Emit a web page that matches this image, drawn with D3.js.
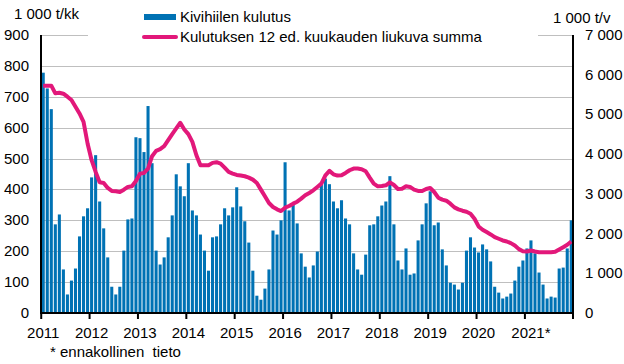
<!DOCTYPE html>
<html>
<head>
<meta charset="utf-8">
<script src="https://cdn.jsdelivr.net/npm/d3@7"></script>
<style>
body { margin: 0; background: #fff; }
text { font-family: "Liberation Sans", Arial, sans-serif; fill: #000; font-size: 15px; }
</style>
</head>
<body>
<svg width="624" height="364"></svg>
<script>
var years = ["2011", "2012", "2013", "2014", "2015", "2016", "2017", "2018", "2019", "2020", "2021"];
var yearLabels = ["2011", "2012", "2013", "2014", "2015", "2016", "2017", "2018", "2019", "2020", "2021*"];

// monthly consumption, 1 000 t
var monthly = {
	"2011": [778, 727, 660, 287, 319, 141, 60, 105, 144, 248, 313, 339],
	"2012": [439, 511, 361, 274, 180, 85, 60, 85, 202, 303, 306, 569],
	"2013": [566, 521, 670, 485, 202, 157, 180, 245, 316, 449, 410, 378],
	"2014": [485, 332, 316, 254, 202, 137, 245, 248, 287, 339, 316, 342],
	"2015": [407, 345, 297, 228, 137, 56, 43, 79, 141, 267, 254, 300],
	"2016": [488, 332, 355, 290, 193, 150, 115, 154, 199, 420, 435, 417],
	"2017": [361, 339, 365, 306, 287, 193, 141, 124, 189, 284, 287, 313],
	"2018": [348, 361, 443, 287, 170, 141, 209, 124, 128, 235, 287, 355],
	"2019": [394, 284, 293, 206, 154, 98, 92, 76, 98, 202, 245, 212],
	"2020": [196, 222, 206, 167, 85, 66, 47, 53, 63, 105, 150, 170],
	"2021": [209, 235, 193, 131, 92, 47, 53, 50, 144, 147, 209, 300]
};

// 12 month moving sum, 1 000 t/v
var rolling = {
	"2011": [5724, 5724, 5724, 5531, 5547, 5522, 5446, 5362, 5194, 5025, 4815, 4268],
	"2012": [3847, 3552, 3291, 3275, 3148, 3073, 3064, 3047, 3106, 3174, 3190, 3325],
	"2013": [3510, 3527, 3637, 3948, 4083, 4125, 4201, 4352, 4504, 4647, 4790, 4622],
	"2014": [4504, 4310, 3973, 3721, 3721, 3721, 3780, 3797, 3763, 3662, 3552, 3510],
	"2015": [3477, 3460, 3443, 3409, 3359, 3275, 3106, 2938, 2769, 2669, 2610, 2567],
	"2016": [2652, 2694, 2753, 2803, 2879, 2963, 3022, 3089, 3174, 3258, 3468, 3578],
	"2017": [3493, 3460, 3468, 3527, 3595, 3637, 3637, 3620, 3569, 3409, 3258, 3190],
	"2018": [3199, 3216, 3291, 3224, 3123, 3131, 3190, 3174, 3106, 3073, 3073, 3123],
	"2019": [3148, 3047, 2904, 2854, 2828, 2753, 2660, 2610, 2576, 2551, 2500, 2374],
	"2020": [2180, 2096, 2037, 1978, 1911, 1869, 1827, 1801, 1759, 1700, 1608, 1557],
	"2021": [1549, 1574, 1549, 1532, 1532, 1532, 1532, 1540, 1600, 1658, 1717, 1801]
};

var leftTicks = [0, 100, 200, 300, 400, 500, 600, 700, 800, 900];
var rightTicks = [0, 1000, 2000, 3000, 4000, 5000, 6000, 7000];

var data = [];
years.forEach(function(y) {
	monthly[y].forEach(function(v, i) {
		data.push({key: y + "-" + i, year: y, month: i, value: v, sum: rolling[y][i]});
	});
});

var plotLeft = 41, plotRight = 573, plotTop = 35, plotBottom = 313;
var svg = d3.select("svg");

var x = d3.scaleBand()
	.domain(data.map(function(d) { return d.key; }))
	.range([plotLeft + 0.5, plotRight])
	.paddingInner(0.24)
	.paddingOuter(0.05);

var yL = d3.scaleLinear().domain([0, 900]).range([plotBottom, plotTop]);
var yR = d3.scaleLinear().domain([0, 7000]).range([plotBottom, plotTop]);

var fmt = d3.formatLocale({decimal: ",", thousands: " ", grouping: [3], currency: ["", ""]}).format(",");

// gridlines
svg.append("g").selectAll("line")
	.data(leftTicks.slice(1))
	.enter().append("line")
	.attr("x1", plotLeft).attr("x2", plotRight)
	.attr("y1", function(d) { return Math.round(yL(d)) + 0.5; })
	.attr("y2", function(d) { return Math.round(yL(d)) + 0.5; })
	.attr("stroke", "#bfbfbf").attr("stroke-width", 1);

// bars
svg.append("g").selectAll("rect")
	.data(data)
	.enter().append("rect")
	.attr("x", function(d) { return x(d.key); })
	.attr("width", x.bandwidth())
	.attr("y", function(d) { return yL(d.value); })
	.attr("height", function(d) { return plotBottom - yL(d.value); })
	.attr("fill", "#0072b4");

// moving sum line
var line = d3.line()
	.x(function(d) { return x(d.key) + x.bandwidth() / 2; })
	.y(function(d) { return yR(d.sum); });

svg.append("path")
	.datum(data)
	.attr("d", line)
	.attr("fill", "none")
	.attr("stroke", "#e2187a")
	.attr("stroke-width", 4)
	.attr("stroke-linejoin", "round");

// axes lines
svg.append("line").attr("x1", plotLeft).attr("x2", plotLeft).attr("y1", plotTop).attr("y2", plotBottom + 1)
	.attr("stroke", "#000").attr("stroke-width", 2);
svg.append("line").attr("x1", plotRight).attr("x2", plotRight).attr("y1", plotTop).attr("y2", plotBottom + 1)
	.attr("stroke", "#000").attr("stroke-width", 2);
svg.append("line").attr("x1", plotLeft - 1).attr("x2", plotRight + 1).attr("y1", plotBottom).attr("y2", plotBottom)
	.attr("stroke", "#000").attr("stroke-width", 2);

// year ticks
var yearX = function(y) { return x(y + "-0") - (x.step() - x.bandwidth()) / 2; };
svg.append("g").selectAll("line")
	.data(years)
	.enter().append("line")
	.attr("x1", yearX).attr("x2", yearX)
	.attr("y1", plotBottom).attr("y2", plotBottom + 6)
	.attr("stroke", "#000").attr("stroke-width", 2);
svg.append("line").attr("x1", plotRight).attr("x2", plotRight).attr("y1", plotBottom).attr("y2", plotBottom + 6)
	.attr("stroke", "#000").attr("stroke-width", 2);

svg.append("g").selectAll("text")
	.data(years)
	.enter().append("text")
	.attr("x", function(d, i) { return yearX(d) + 2 + (i == 10 ? 4 : 0); })
	.attr("y", 338)
	.attr("text-anchor", "middle")
	.text(function(d, i) { return yearLabels[i]; });

// left tick labels
svg.append("g").selectAll("text")
	.data(leftTicks)
	.enter().append("text")
	.attr("x", 29)
	.attr("y", function(d) { return yL(d) + 5; })
	.attr("text-anchor", "end")
	.text(function(d) { return d; });

// right tick labels
svg.append("g").selectAll("text")
	.data(rightTicks)
	.enter().append("text")
	.attr("x", 585)
	.attr("y", function(d) { return yR(d) + 5; })
	.text(function(d) { return fmt(d); });

// units
svg.append("text").attr("x", 14).attr("y", 19).text("1 000 t/kk");
svg.append("text").attr("x", 553).attr("y", 23).text("1 000 t/v");

// legend
svg.append("rect").attr("x", 88).attr("y", 4).attr("width", 450).attr("height", 40).attr("fill", "#fff");
svg.append("rect").attr("x", 144).attr("y", 14).attr("width", 32).attr("height", 6).attr("fill", "#0072b4");
svg.append("text").attr("x", 180).attr("y", 22).text("Kivihiilen kulutus");
svg.append("line").attr("x1", 144).attr("x2", 176).attr("y1", 37).attr("y2", 37)
	.attr("stroke", "#e2187a").attr("stroke-width", 4).attr("stroke-linecap", "round");
svg.append("text").attr("x", 180).attr("y", 42).text("Kulutuksen 12 ed. kuukauden liukuva summa");

// footnote
svg.append("text").attr("x", 50).attr("y", 357)
	.style("white-space", "pre")
	.text("* ennakollinen  tieto");
</script>
</body>
</html>
